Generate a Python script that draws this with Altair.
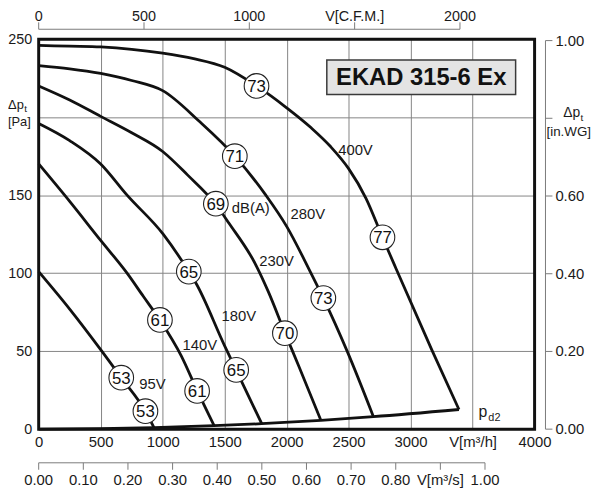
import altair as alt
import pandas as pd

# ---------------- values ----------------
flow_400V = [0, 250, 500, 750, 1000, 1250, 1500, 1757, 2000, 2200, 2356, 2500, 2640, 2773, 2882, 3170, 3390]
pres_400V = [246, 245.5, 245, 243.5, 241, 237.5, 232, 220, 206, 193, 181, 167, 148, 123, 103, 51, 12.6]
flow_280V = [0, 250, 500, 750, 1000, 1300, 1582, 1832, 2000, 2184, 2296, 2488, 2700]
pres_280V = [233, 231, 228, 223.5, 217, 197, 175, 150, 130, 102, 84, 50, 8]
flow_230V = [0, 250, 500, 750, 1000, 1200, 1429, 1535, 1747, 1853, 1985, 2100, 2276]
pres_230V = [220, 211, 200.5, 190, 178, 163, 144, 132, 106, 88, 62, 40, 5.7]
flow_180V = [0, 250, 500, 713, 1004, 1211, 1269, 1500, 1593, 1640, 1799]
pres_180V = [196, 185, 170, 150, 125, 101, 93.5, 53.4, 38, 30, 3.5]
flow_140V = [0, 250, 500, 713, 845, 978, 1150, 1277, 1415]
pres_140V = [170, 146, 121, 100, 85, 70, 47, 25, 2.2]
flow_95V = [0, 250, 500, 666, 861, 930]
pres_95V = [101, 77, 51, 33, 11.5, 1]
flow_pd2 = [0, 500, 930, 1415, 1799, 2276, 2700, 3390]
pres_pd2 = [0, 0.3, 1, 2.2, 3.5, 5.7, 8, 12.6]

circle_flow = [1757, 2773, 1582, 2296, 1429, 1986, 1211, 1593, 978, 1278, 666, 861]
circle_pres = [220, 123, 175, 84, 144.5, 61.5, 101, 38, 70, 24.5, 33, 11.5]
circle_db = ["73", "77", "71", "73", "69", "70", "65", "65", "61", "61", "53", "53"]

label_text = ["400V", "280V", "230V", "180V", "140V", "95V", "dB(A)"]
label_flow = [2555, 2171, 1919, 1614, 1299, 918, 1711]
label_pres = [179, 138, 108, 72.5, 54, 28.6, 142]

x_ticks_m3h = [0, 500, 1000, 1500, 2000, 2500, 3000, 3500, 4000]
y_ticks_pa = [0, 50, 100, 150, 200, 250]
cfm_ticks = [0, 500, 1000, 1500, 2000]
cfm_labels = ["0", "500", "1000", "V[C.F.M.]", "2000"]
m3s_ticks = [0.0, 0.1, 0.2, 0.3, 0.4, 0.5, 0.6, 0.7, 0.8, 0.9, 1.0]
m3s_labels = ["0.00", "0.10", "0.20", "0.30", "0.40", "0.50", "0.60", "0.70", "0.80", "V[m³/s]", "1.00"]
inwg_ticks = [0.0, 0.2, 0.4, 0.6, 0.8, 1.0]
inwg_labels = ["0.00", "0.20", "0.40", "0.60", "", "1.00"]
title_text = "EKAD 315-6 Ex"
title_box_flow = [2324, 3847]
title_box_pres = [214.5, 236.6]
pd2_anchor = [3547, 7.8]

CFM_TO_M3H = 1.699
M3S_TO_M3H = 3600.0
INWG_TO_PA = 249.09

# ---------------- tables ----------------
curve_sets = {
    "400V": (flow_400V, pres_400V), "280V": (flow_280V, pres_280V),
    "230V": (flow_230V, pres_230V), "180V": (flow_180V, pres_180V),
    "140V": (flow_140V, pres_140V), "95V": (flow_95V, pres_95V),
    "pd2": (flow_pd2, pres_pd2),
}
rows = []
for name, (fs, ps) in curve_sets.items():
    for f, p in zip(fs, ps):
        rows.append({"curve": name, "q": f, "p": p})
df_curves = pd.DataFrame(rows)
df_circles = pd.DataFrame({"q": circle_flow, "p": circle_pres, "t": circle_db})
df_labels = pd.DataFrame({"q": label_flow, "p": label_pres, "t": label_text})
df_cfm = pd.DataFrame({"q": [v * CFM_TO_M3H for v in cfm_ticks], "t": cfm_labels})
df_m3s = pd.DataFrame({"q": [v * M3S_TO_M3H for v in m3s_ticks], "t": m3s_labels})
df_inwg = pd.DataFrame({"p": [v * INWG_TO_PA for v in inwg_ticks], "t": inwg_labels})
df_top_line = pd.DataFrame({"q": [0], "q2": [cfm_ticks[-1] * CFM_TO_M3H]})
df_bot_line = pd.DataFrame({"q": [0], "q2": [m3s_ticks[-1] * M3S_TO_M3H]})
df_right_line = pd.DataFrame({"p": [0], "p2": [inwg_ticks[-1] * INWG_TO_PA]})
df_title_box = pd.DataFrame({"q": [title_box_flow[0]], "q2": [title_box_flow[1]],
                             "p": [title_box_pres[0]], "p2": [title_box_pres[1]]})
df_title = pd.DataFrame({"q": [sum(title_box_flow) / 2], "p": [sum(title_box_pres) / 2], "t": [title_text]})
df_pd2 = pd.DataFrame({"q": [pd2_anchor[0]], "p": [pd2_anchor[1]]})
df_left_dp = pd.DataFrame({"p": [200]})
df_right_dp = pd.DataFrame({"p": [0.8 * INWG_TO_PA]})
df_one = pd.DataFrame({"a": [0]})

# ---------------- styling ----------------
W, H = 501, 394
FONT = "Liberation Sans"
INK = "#111111"
TXT = "#1a1a1a"
GRID = "#858585"
AXC = "#7a7a7a"

xs = alt.Scale(domain=[0, 4000], nice=False, zero=False)
ys = alt.Scale(domain=[0, 250], nice=False, zero=False)

x_axis = alt.Axis(values=x_ticks_m3h, format="d",
                  labelExpr="datum.value == 3500 ? 'V[m³/h]' : datum.label",
                  title=None, ticks=False, domain=False, grid=True, gridColor=GRID,
                  gridWidth=1, labelPadding=6, labelFontSize=15, labelFont=FONT,
                  labelColor=TXT, labelFlush=False)
y_axis = alt.Axis(values=y_ticks_pa, format="d",
                  labelExpr="datum.value == 200 ? '' : datum.label",
                  title=None, ticks=False, domain=False, grid=True, gridColor=GRID,
                  gridWidth=1, labelPadding=7, labelFontSize=14.5, labelFont=FONT,
                  labelColor=TXT, labelFlush=False)


def X(f):
    return alt.X(f, scale=xs, axis=x_axis)


def Y(f):
    return alt.Y(f, scale=ys, axis=y_axis)


curves = alt.Chart(df_curves).mark_line(color=INK, strokeWidth=2.8, interpolate="monotone").encode(
    x=X("q:Q"), y=Y("p:Q"), detail="curve:N",
)

circles = alt.Chart(df_circles).mark_circle(size=620, color="white", opacity=1,
                                            stroke="#222222", strokeWidth=1.1).encode(
    x=X("q:Q"), y=Y("p:Q"))
circle_txt = alt.Chart(df_circles).mark_text(fontSize=17, font=FONT, color=INK,
                                             baseline="middle", dy=1).encode(
    x=X("q:Q"), y=Y("p:Q"), text="t:N")
labels = alt.Chart(df_labels).mark_text(fontSize=15, font=FONT, color=TXT, baseline="middle").encode(
    x=X("q:Q"), y=Y("p:Q"), text="t:N")

title_box = alt.Chart(df_title_box).mark_rect(fill="#e4e4e4", stroke="#3a3a3a", strokeWidth=1.5).encode(
    x=X("q:Q"), x2="q2:Q", y=Y("p:Q"), y2="p2:Q")
title = alt.Chart(df_title).mark_text(fontSize=24, fontWeight="bold", font=FONT, color=INK,
                                      baseline="middle", dy=1).encode(
    x=X("q:Q"), y=Y("p:Q"), text="t:N")

pd2_p = alt.Chart(df_pd2).mark_text(text="p", fontSize=16, font=FONT, color=TXT,
                                    align="left", baseline="alphabetic").encode(x=X("q:Q"), y=Y("p:Q"))
pd2_s = alt.Chart(df_pd2).mark_text(text="d2", fontSize=11, font=FONT, color=TXT,
                                    align="left", baseline="alphabetic", dx=10, dy=4).encode(x=X("q:Q"), y=Y("p:Q"))

border = alt.Chart(df_one).mark_rect(fillOpacity=0, stroke=INK, strokeWidth=3).encode(
    x=alt.value(0), x2=alt.value(W), y=alt.value(0), y2=alt.value(H))

# top C.F.M. axis
top_line = alt.Chart(df_top_line).mark_rule(color=AXC, strokeWidth=1).encode(
    x=X("q:Q"), x2="q2:Q", y=alt.value(-10))
top_ticks = alt.Chart(df_cfm).mark_rule(color=AXC, strokeWidth=1).encode(
    x=X("q:Q"), y=alt.value(-17), y2=alt.value(-10))
top_text = alt.Chart(df_cfm).mark_text(fontSize=14.5, font=FONT, color=TXT, baseline="alphabetic").encode(
    x=X("q:Q"), y=alt.value(-18), text="t:N")

# bottom m3/s axis
bot_line = alt.Chart(df_bot_line).mark_rule(color=AXC, strokeWidth=1).encode(
    x=X("q:Q"), x2="q2:Q", y=alt.value(H + 34))
bot_ticks = alt.Chart(df_m3s).mark_rule(color=AXC, strokeWidth=1).encode(
    x=X("q:Q"), y=alt.value(H + 34), y2=alt.value(H + 41))
bot_text = alt.Chart(df_m3s).mark_text(fontSize=15, font=FONT, color=TXT, baseline="alphabetic").encode(
    x=X("q:Q"), y=alt.value(H + 56), text="t:N")

# right in.WG axis
r_line = alt.Chart(df_right_line).mark_rule(color=AXC, strokeWidth=1).encode(
    x=alt.value(W + 11), y=Y("p:Q"), y2="p2:Q")
r_ticks = alt.Chart(df_inwg).mark_rule(color=AXC, strokeWidth=1).encode(
    x=alt.value(W + 11), x2=alt.value(W + 18), y=Y("p:Q"))
r_text = alt.Chart(df_inwg).mark_text(fontSize=15, font=FONT, color=TXT, align="left", baseline="middle").encode(
    x=alt.value(W + 21), y=Y("p:Q"), text="t:N")

# axis titles (delta p with subscript)
l_dp = alt.Chart(df_left_dp).mark_text(text="Δp", fontSize=13, font=FONT, color=TXT,
                                       align="right", baseline="middle", dy=-12).encode(x=alt.value(-15), y=Y("p:Q"))
l_t = alt.Chart(df_left_dp).mark_text(text="t", fontSize=10, font=FONT, color=TXT,
                                      align="left", baseline="middle", dy=-8).encode(x=alt.value(-14.5), y=Y("p:Q"))
l_pa = alt.Chart(df_left_dp).mark_text(text="[Pa]", fontSize=13, font=FONT, color=TXT,
                                       align="right", baseline="middle", dy=5).encode(x=alt.value(-8), y=Y("p:Q"))
r_dp = alt.Chart(df_right_dp).mark_text(text="Δp", fontSize=14, font=FONT, color=TXT,
                                        align="center", baseline="middle", dy=-5).encode(x=alt.value(W + 37.5), y=Y("p:Q"))
r_t = alt.Chart(df_right_dp).mark_text(text="t", fontSize=10, font=FONT, color=TXT,
                                       align="left", baseline="middle", dy=0).encode(x=alt.value(W + 46.5), y=Y("p:Q"))
r_wg = alt.Chart(df_right_dp).mark_text(text="[in.WG]", fontSize=13.5, font=FONT, color=TXT,
                                        align="center", baseline="middle", dy=13.5).encode(x=alt.value(W + 34.5), y=Y("p:Q"))

chart = alt.layer(
    curves, circles, circle_txt, labels, title_box, title, pd2_p, pd2_s, border,
    top_line, top_ticks, top_text, bot_line, bot_ticks, bot_text,
    r_line, r_ticks, r_text, l_dp, l_t, l_pa, r_dp, r_t, r_wg,
).properties(
    width=W, height=H,
    autosize=alt.AutoSizeParams(type="none"),
    padding={"left": 31, "top": 29, "right": 58, "bottom": 60},
).configure_view(stroke="transparent")

chart.save("out.html", embed_options={"renderer": "svg", "actions": False})
